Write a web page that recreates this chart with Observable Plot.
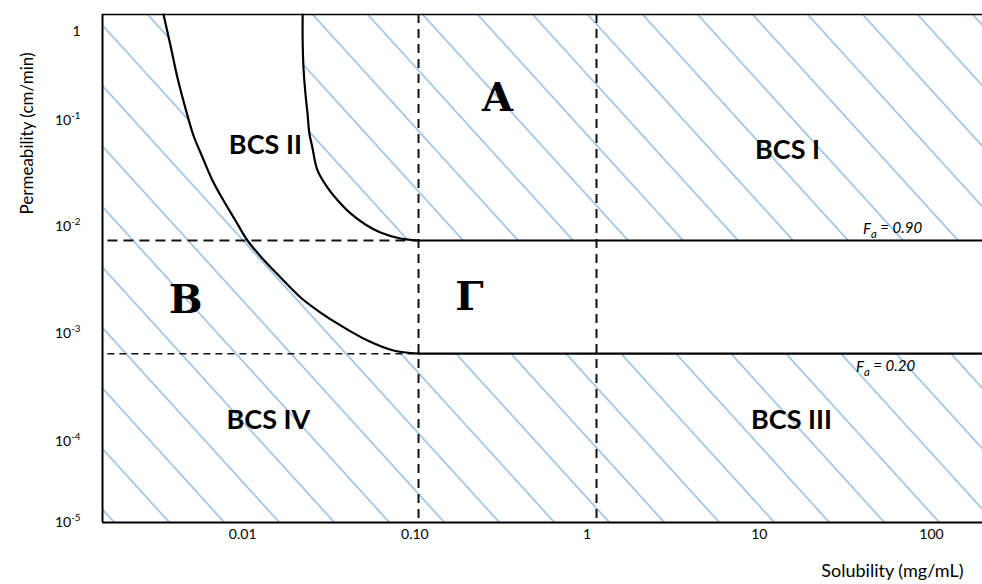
<!DOCTYPE html>
<html><head><meta charset="utf-8">
<script src="https://cdn.jsdelivr.net/npm/d3@7"></script>
<script src="https://cdn.jsdelivr.net/npm/@observablehq/plot@0.6"></script>
<style>body{margin:0;background:#fff;} svg{display:block}</style>
</head><body><div id="chart"></div>
<script>
// ---- data ----
const xTicks = [0.01, 0.1, 1, 10, 100];
const xTickLabels = ["0.01", "0.10", "1", "10", "100"];
const yTicks = [0.00001, 0.0001, 0.001, 0.01, 0.1, 1];
const yTickLabels = ["10^-5", "10^-4", "10^-3", "10^-2", "10^-1", "1"];
const xMin = 0.001535, xMax = 197.7;
const yTop = 1.55, yBottom = 0.00001;
const fa90 = 0.0074;      // Fa = 0.90 boundary
const fa20 = 0.00065;     // Fa = 0.20 boundary
const vLines = [0.105, 1.134];
const dashStartX = 0.00165;
const leftCurveX = [0.00347, 0.00381, 0.00418, 0.00466, 0.00518, 0.00585, 0.00668, 0.00774, 0.00908, 0.01066, 0.01303, 0.0166, 0.0217, 0.0283, 0.0370, 0.0531, 0.0751, 0.105];
const leftCurveY = [1.55, 0.696, 0.304, 0.136, 0.0722, 0.0448, 0.0272, 0.0176, 0.0114, 0.0074, 0.00502, 0.00334, 0.00217, 0.00157, 0.00119, 0.00086, 0.000696, 0.00065];
const rightCurveX = [0.0223, 0.0223, 0.02255, 0.0232, 0.0238, 0.0244, 0.0254, 0.0272, 0.0311, 0.0370, 0.0423, 0.0516, 0.0631, 0.0825, 0.105];
const rightCurveY = [1.55, 0.792, 0.394, 0.191, 0.120, 0.0754, 0.0556, 0.0338, 0.0233, 0.0165, 0.0133, 0.01045, 0.00879, 0.00772, 0.0074];
const bcsNames = ["BCS II", "BCS I", "BCS IV", "BCS III"];
const bcsX = [0.01355, 14.58, 0.01412, 15.38];
const bcsY = [0.0581, 0.0521, 0.000156, 0.000156];
const greekNames = ["A", "B", "Γ"];
const greekX = [0.302, 0.00466, 0.2075];
const greekY = [0.1767, 0.00203, 0.00217];
const faNames = ["Fa = 0.90", "Fa = 0.20"];
const faX = [59.4, 54.1];
const faY = [0.00937, 0.000484];
const xTitle = "Solubility (mg/mL)";
const yTitle = "Permeability (cm/min)";

const idx = n => d3.range(n);
const hatch = "url(#hatch)";

const svg = Plot.plot({
  width: 982, height: 584,
  marginLeft: 102, marginRight: 0, marginTop: 14, marginBottom: 62,
  style: {fontFamily: "Lato, sans-serif", fontSize: "14px", background: "white", color: "black"},
  x: {type: "log", domain: [xMin, xMax], range: [102, 982], ticks: xTicks,
      tickFormat: d => xTickLabels[xTicks.indexOf(d)], tickSize: 0, tickPadding: 7, label: null},
  y: {type: "log", domain: [...yTicks, yTop], range: [522, 441, 333, 226, 120, 31, 14], ticks: yTicks,
      tickFormat: d => yTickLabels[yTicks.indexOf(d)], tickSize: 0, tickPadding: 22, label: null},
  marks: [
    // hatched regions
    Plot.areaY([xMin, xMax], {x: d => d, y1: yBottom, y2: fa20, fill: hatch}),
    Plot.areaX(idx(leftCurveX.length), {x1: xMin, x2: leftCurveX, y: leftCurveY, curve: "catmull-rom", fill: hatch}),
    Plot.areaX(idx(rightCurveX.length), {x1: rightCurveX, x2: xMax, y: rightCurveY, curve: "catmull-rom", fill: hatch}),
    // frame
    Plot.ruleX([xMin], {stroke: "black", strokeWidth: 2}),
    Plot.ruleY([yTop], {stroke: "black", strokeWidth: 1.5}),
    Plot.ruleY([yBottom], {stroke: "black", strokeWidth: 2}),
    // dashed guides
    Plot.ruleX(vLines, {stroke: "#111", strokeWidth: 2, strokeDasharray: "9,6"}),
    Plot.ruleY([fa90], {x1: dashStartX, x2: vLines[0], stroke: "#111", strokeWidth: 2, strokeDasharray: "10,6"}),
    Plot.ruleY([fa20], {x1: dashStartX, x2: vLines[0], stroke: "#111", strokeWidth: 1.5, strokeDasharray: "7,5"}),
    // solid boundaries
    Plot.ruleY([fa90, fa20], {x1: vLines[0], x2: xMax, stroke: "black", strokeWidth: 2.2}),
    Plot.line(idx(leftCurveX.length), {x: leftCurveX, y: leftCurveY, curve: "catmull-rom", stroke: "black", strokeWidth: 2.2}),
    Plot.line(idx(rightCurveX.length), {x: rightCurveX, y: rightCurveY, curve: "catmull-rom", stroke: "black", strokeWidth: 2.2}),
    // labels
    Plot.text(idx(bcsNames.length), {x: bcsX, y: bcsY, text: bcsNames, fontSize: 27, fontWeight: "bold", fill: "black"}),
    Plot.text(idx(greekNames.length), {x: greekX, y: greekY, text: greekNames, fontSize: 40, fontWeight: "bold", fontFamily: "DejaVu Serif", fill: "black"}),
    Plot.text(idx(faNames.length), {x: faX, y: faY, text: faNames, fontSize: 15, fontStyle: "italic", fill: "black"}),
    Plot.text([xTitle], {frameAnchor: "bottom-right", dx: -19, dy: 54, textAnchor: "end", fontSize: 18, fill: "black"}),
    Plot.text([yTitle], {frameAnchor: "top-left", dx: -82, dy: 119, rotate: -90, textAnchor: "middle", fontSize: 17, fill: "black"})
  ]
});

// hatch pattern definition
const ns = "http://www.w3.org/2000/svg";
const defs = document.createElementNS(ns, "defs");
defs.innerHTML = `<pattern id="hatch" patternUnits="userSpaceOnUse" width="55" height="60.5" patternTransform="translate(24.5,0)">
  <path d="M-5,-5.5L60,66M50,-5.5L60,5.5M-5,55L5,66" stroke="#5b9bd5" stroke-width="1" fill="none"/>
</pattern>`;
svg.insertBefore(defs, svg.firstChild);

// superscripts / subscripts, tick label size
function add(t, s, attrs = {}) {
  const ts = document.createElementNS(ns, "tspan");
  ts.textContent = s;
  for (const k in attrs) ts.setAttribute(k, attrs[k]);
  t.appendChild(ts);
}
svg.querySelectorAll("text").forEach(t => {
  const s = t.textContent;
  if (xTickLabels.includes(s) || yTickLabels.includes(s)) t.style.fontSize = "14px";
  let m = s.match(/^10\^(-\d)$/);
  if (m) { t.textContent = ""; add(t, "10"); add(t, m[1], {dy: "-0.6em", "font-size": "0.7em"}); return; }
  m = s.match(/^Fa( = .*)$/);
  if (m) { t.textContent = ""; add(t, "F"); add(t, "a", {dy: "0.3em", "font-size": "0.75em"}); add(t, m[1], {dy: "-0.3em"}); }
});

document.getElementById("chart").appendChild(svg);
</script>
</body></html>
